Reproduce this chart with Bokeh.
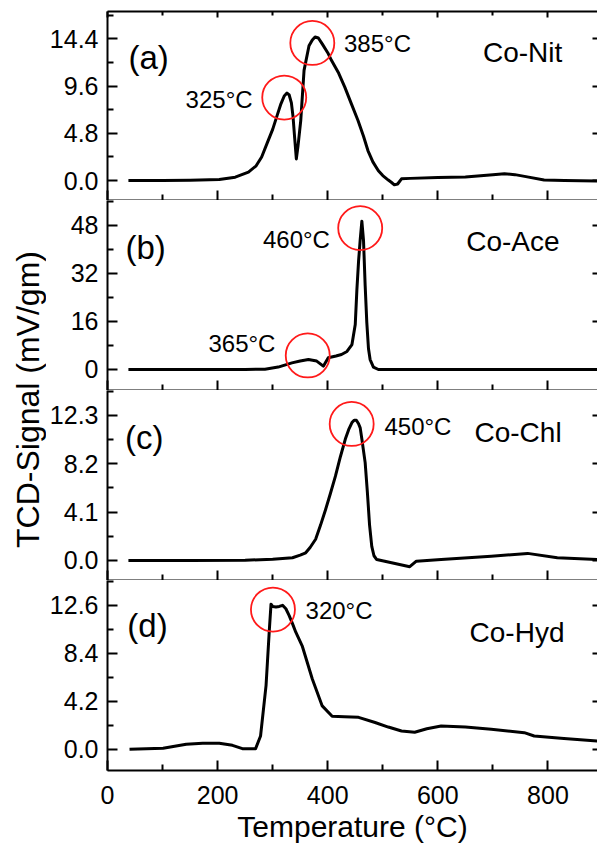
import math
from bokeh.plotting import figure
from bokeh.layouts import row, column
from bokeh.models import FixedTicker, Label, LinearAxis, Range1d
from bokeh.embed import file_html
from bokeh.resources import INLINE

FONT = "Liberation Sans"

# ---------------- data ----------------
temp_a = [38, 100, 150, 203, 232, 256, 270, 280, 290, 300, 308, 315, 321, 326, 330, 334,
          337, 340, 343, 346, 351, 357, 366, 372, 377, 383, 390, 400, 407, 420, 431, 443, 455,
          465, 473, 482, 492, 500, 510, 516, 521, 527, 534, 550, 600, 650, 700, 721, 740,
          760, 793, 830, 890]
sig_a = [0, 0, 0.02, 0.1, 0.34, 0.85, 1.5, 2.4, 3.8, 5.2, 6.6, 7.8, 8.6, 8.9, 8.7, 7.9,
         6.5, 4.3, 2.2, 3.5, 6.1, 11.2, 13.7, 14.3, 14.6, 14.5, 13.9, 13.0, 12.2, 10.9, 9.5, 7.8, 6.1,
         4.5, 3.05, 1.9, 1.0, 0.5, 0.05, -0.2, -0.44, -0.35, 0.17, 0.22, 0.3, 0.35, 0.6, 0.68, 0.6,
         0.4, 0.05, 0.0, -0.05]

temp_b = [38, 150, 250, 286, 310, 335, 350, 365, 380, 392, 401, 415, 425, 435, 444, 450,
          453, 456, 459, 462, 465, 468, 471, 474, 477, 483, 492, 550, 650, 750, 890]
sig_b = [0, 0, 0, 0.1, 0.8, 2.2, 2.8, 3.3, 2.8, 1.1, 3.9, 4.5, 5.0, 6.0, 8.3, 15,
         26.7, 36, 43.3, 49.4, 43, 28, 15.6, 7, 3.3, 0.8, 0, 0, 0, 0, 0]

temp_c = [38, 150, 250, 300, 336, 350, 360, 368, 378, 387, 396, 405, 414, 423, 432, 438,
          444, 448, 452, 456, 459, 462, 468, 472, 476, 480, 484, 489, 516, 549, 561, 606,
          697, 763, 817, 890]
sig_c = [0, 0, 0.02, 0.1, 0.23, 0.45, 0.65, 1.1, 1.8, 3.0, 4.3, 5.7, 7.15, 8.8, 10.3, 11.1,
         11.7, 11.9, 11.9, 11.6, 11.25, 10.3, 8.3, 5.8, 3.0, 1.2, 0.4, 0.08, -0.2, -0.53, -0.06, 0.08,
         0.36, 0.6, 0.23, 0.08]

temp_d = [40, 101, 143, 173, 203, 227, 245, 269, 278, 288, 294, 297, 300, 306, 312, 318,
          324, 330, 336, 342, 354, 372, 390, 408, 430, 456, 486, 510, 534, 558, 580, 606,
          650, 697, 757, 775, 829, 890]
sig_d = [0, 0.09, 0.44, 0.53, 0.53, 0.35, 0.06, 0.06, 1.17, 5.6, 10.5, 12.7, 12.5, 12.45, 12.5, 12.6,
         12.3, 11.7, 11.0, 10.25, 9.0, 6.15, 3.8, 2.9, 2.85, 2.8, 2.35, 1.95, 1.6, 1.5, 1.8, 2.05,
         1.95, 1.76, 1.46, 1.17, 0.94, 0.73]

# tick values / labels
x_major = [0, 200, 400, 600, 800]
x_minor = [100, 300, 500, 700, 900]
x_labels = ["0", "200", "400", "600", "800"]

y_major_a = [0, 4.8, 9.6, 14.4]
y_labels_a = ["0.0", "4.8", "9.6", "14.4"]
y_major_b = [0, 16, 32, 48]
y_labels_b = ["0", "16", "32", "48"]
y_major_c = [0, 4.1, 8.2, 12.3]
y_labels_c = ["0.0", "4.1", "8.2", "12.3"]
y_major_d = [0, 4.2, 8.4, 12.6]
y_labels_d = ["0.0", "4.2", "8.4", "12.6"]

# annotations: peak circles (temperature, signal)
circ_a_t = [321, 372]
circ_a_v = [8.44, 13.99]
circ_b_t = [363.7, 459]
circ_b_v = [4.67, 47.1]
circ_c_t = [443.5]
circ_c_v = [11.58]
circ_d_t = [300.5]
circ_d_v = [12.23]

sample_names = ["Co-Nit", "Co-Ace", "Co-Chl", "Co-Hyd"]
panel_tags = ["(a)", "(b)", "(c)", "(d)"]

# ---------------- layout constants ----------------
X_RANGE = (0, 890)
Y_RANGES = [(-2.03, 17.19), (-7.0, 56.3), (-1.7, 14.42), (-1.85, 14.77)]
LABEL_W = 46
MAIN_W = 597 - LABEL_W
LEFT = 104 - LABEL_W


def hide_labels(ax):
    ax.major_label_text_font_size = "0px"
    ax.major_label_text_color = None
    ax.major_label_standoff = 0


def make_panel(i, temps, sigs, ymajor, ylabels, ct, cv, texts, height,
               top=0, bottom=0, last=False, top_axis=False):
    ymin, ymax = Y_RANGES[i]
    p = figure(width=MAIN_W, height=height, output_backend="svg", toolbar_location=None,
               x_range=Range1d(*X_RANGE), y_range=Range1d(ymin, ymax),
               min_border_left=LEFT, min_border_right=0,
               min_border_top=top, min_border_bottom=bottom,
               x_axis_location=None, y_axis_location=None)
    p.outline_line_color = None
    p.grid.visible = False
    p.background_fill_color = "white"
    p.border_fill_color = "white"

    step = ymajor[1] - ymajor[0]
    yminor = [v + step / 2 for v in [ymajor[0] - step] + ymajor]

    # left axis
    ya = LinearAxis(ticker=FixedTicker(ticks=ymajor, minor_ticks=yminor),
                    major_label_overrides={v: s for v, s in zip(ymajor, ylabels)})
    ya.axis_line_width = 2
    ya.major_tick_in = 10
    ya.major_tick_out = 0
    ya.minor_tick_in = 6
    ya.minor_tick_out = 0
    ya.major_tick_line_width = 2
    ya.minor_tick_line_width = 2
    ya.major_label_standoff = 9
    ya.major_label_text_font = FONT
    ya.major_label_text_font_size = "25px"
    ya.major_label_text_color = "black"
    p.add_layout(ya, "left")

    # right axis (ticks only)
    yr = LinearAxis(ticker=FixedTicker(ticks=ymajor, minor_ticks=yminor))
    yr.axis_line_color = None
    yr.major_tick_in = 5
    yr.major_tick_out = 0
    yr.minor_tick_in = 0
    yr.minor_tick_out = 0
    yr.major_tick_line_width = 2
    hide_labels(yr)
    p.add_layout(yr, "right")

    # bottom axis
    xa = LinearAxis(ticker=FixedTicker(ticks=x_major, minor_ticks=x_minor),
                    major_label_overrides={v: s for v, s in zip(x_major, x_labels)})
    xa.axis_line_width = 2
    xa.major_tick_in = 10
    xa.major_tick_out = 0
    xa.minor_tick_in = 6
    xa.minor_tick_out = 0
    xa.major_tick_line_width = 2
    xa.minor_tick_line_width = 2
    if last:
        xa.major_label_standoff = 15
        xa.major_label_text_font = FONT
        xa.major_label_text_font_size = "25px"
        xa.major_label_text_color = "black"
        xa.axis_label = "Temperature (°C)"
        xa.axis_label_text_font = FONT
        xa.axis_label_text_font_size = "30px"
        xa.axis_label_text_font_style = "normal"
        xa.axis_label_text_color = "black"
        xa.axis_label_standoff = 3
    else:
        hide_labels(xa)
    p.add_layout(xa, "below")

    if top_axis:
        xt = LinearAxis(ticker=FixedTicker(ticks=x_major, minor_ticks=x_minor))
        xt.axis_line_width = 2
        xt.major_tick_in = 6
        xt.major_tick_out = 0
        xt.minor_tick_in = 4
        xt.minor_tick_out = 0
        xt.major_tick_line_width = 2
        xt.minor_tick_line_width = 2
        hide_labels(xt)
        p.add_layout(xt, "above")

    p.line(temps, sigs, line_color="black", line_width=3, line_join="round")
    p.scatter(ct, cv, marker="circle", size=44, fill_color=None,
              line_color="#ff1a1a", line_width=1.8)

    for (tx, ty, txt, size, align) in texts:
        p.add_layout(Label(x=tx, y=ty, text=txt, text_font=FONT, text_font_size=size,
                           text_align=align, text_baseline="middle", text_color="black"))
    return p


pa = make_panel(0, temp_a, sig_a, y_major_a, y_labels_a, circ_a_t, circ_a_v,
                [(38, 12.5, panel_tags[0], "33px", "left"),
                 (682, 13.0, sample_names[0], "28px", "left"),
                 (263.5, 8.2, "325°C", "24px", "right"),
                 (429.6, 13.9, "385°C", "24px", "left")],
                height=200, top=11, top_axis=True)
pb = make_panel(1, temp_b, sig_b, y_major_b, y_labels_b, circ_b_t, circ_b_v,
                [(32.5, 40.7, panel_tags[1], "33px", "left"),
                 (651.6, 42.8, sample_names[1], "28px", "left"),
                 (305, 8.7, "365°C", "24px", "right"),
                 (404, 43.3, "460°C", "24px", "right")],
                height=190)
pc = make_panel(2, temp_c, sig_c, y_major_c, y_labels_c, circ_c_t, circ_c_v,
                [(32, 10.4, panel_tags[2], "33px", "left"),
                 (666.6, 10.83, sample_names[2], "28px", "left"),
                 (503, 11.39, "450°C", "24px", "left")],
                height=190)
pd_ = make_panel(3, temp_d, sig_d, y_major_d, y_labels_d, circ_d_t, circ_d_v,
                 [(36, 10.8, panel_tags[3], "33px", "left"),
                  (657.6, 10.25, sample_names[3], "28px", "left"),
                  (359.7, 12.15, "320°C", "24px", "left")],
                 height=266, bottom=76, last=True)

# y-axis title panel
lab = figure(width=LABEL_W, height=846, output_backend="svg", toolbar_location=None,
             x_range=Range1d(0, LABEL_W), y_range=Range1d(0, 846),
             min_border=0, x_axis_location=None, y_axis_location=None)
lab.outline_line_color = None
lab.grid.visible = False
lab.add_layout(Label(x=27, y=447, text="TCD-Signal (mV/gm)", angle=math.pi / 2,
                     text_font=FONT, text_font_size="32px", text_align="center",
                     text_baseline="middle", text_color="black"))

layout = row(lab, column(pa, pb, pc, pd_, spacing=0), spacing=0)

open("out.html", "w").write(file_html(layout, INLINE))
